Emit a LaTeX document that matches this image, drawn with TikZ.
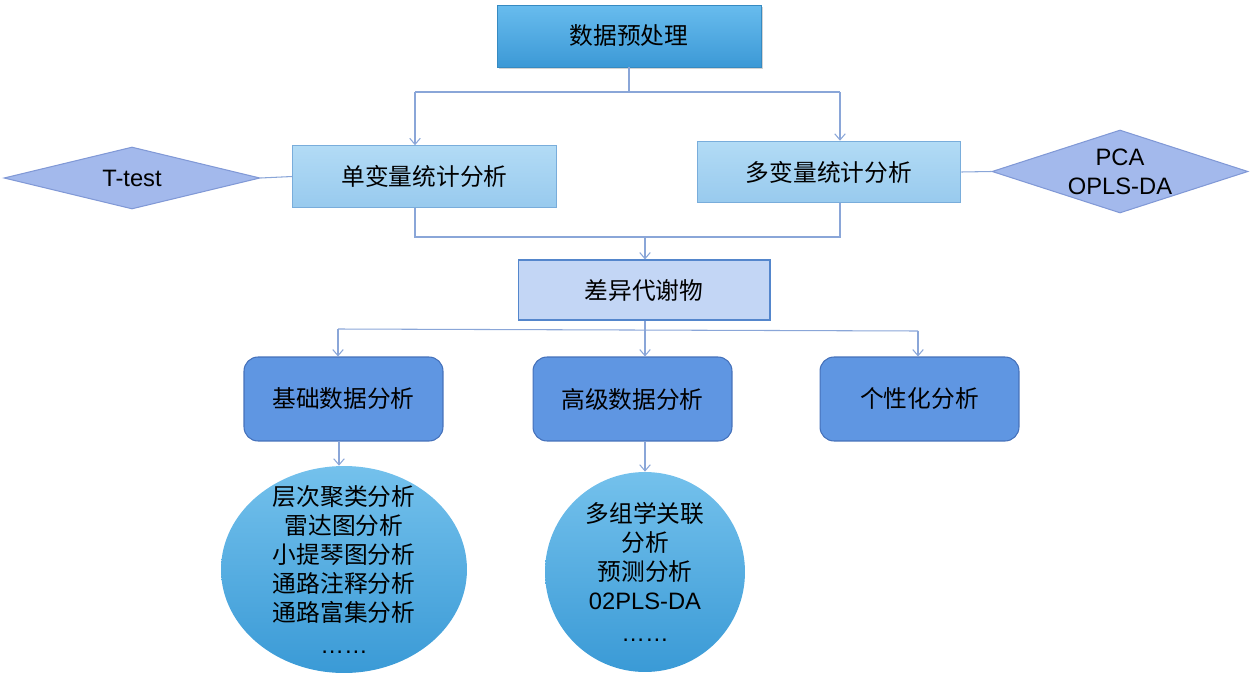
\documentclass[tikz,border=0pt]{standalone}
\usepackage{fontspec}
\setmainfont{Liberation Sans}
\newfontfamily\cjk{Noto Sans CJK SC}
\usetikzlibrary{shapes.geometric,arrows.meta,shadows}
\definecolor{linec}{HTML}{8AA6D8}
\definecolor{topA}{HTML}{68BCEE}
\definecolor{topB}{HTML}{3C99D6}
\definecolor{midA}{HTML}{B2DBF5}
\definecolor{midB}{HTML}{98CAEE}
\definecolor{midD}{HTML}{79ADDB}
\definecolor{diaF}{HTML}{A3B9EC}
\definecolor{diaD}{HTML}{8199D6}
\definecolor{difF}{HTML}{C3D6F5}
\definecolor{difD}{HTML}{5486CC}
\definecolor{rbF}{HTML}{5F96E2}
\definecolor{rbD}{HTML}{4571BA}
\definecolor{elA}{HTML}{74C1EC}
\definecolor{elB}{HTML}{3A9AD6}
\begin{document}
\begin{tikzpicture}[x=0.02cm,y=-0.02cm,
  txt/.style={font=\fontsize{13.5}{16.5}\selectfont, text=black, inner sep=0pt},
  topbox/.style={txt, rectangle, top color=topA, bottom color=topB, draw=topB!90!black, line width=0.4pt,
     minimum width=5.28cm, minimum height=1.24cm, drop shadow={opacity=0.35, shadow xshift=1.2pt, shadow yshift=-1.2pt}},
  midbox/.style={txt, rectangle, top color=midA, bottom color=midB, draw=midD, line width=0.6pt,
     minimum width=5.27cm, minimum height=1.23cm},
  dia/.style={txt, diamond, fill=diaF, draw=diaD, line width=0.6pt, align=center},
  diffbox/.style={txt, rectangle, fill=difF, draw=difD, line width=0.6pt, minimum width=5.04cm, minimum height=1.2cm},
  rbox/.style={txt, rectangle, rounded corners=0.28cm, fill=rbF, draw=rbD, line width=0.6pt, minimum width=3.98cm, minimum height=1.68cm},
  oval/.style={txt, ellipse, top color=elA, bottom color=elB, draw=none, align=center},
  conn/.style={draw=linec, line width=0.6pt},
  arr/.style={conn, -{Straight Barb[length=3.5pt,width=6pt]}}
]
\useasboundingbox (0,0) rectangle (1250,686);

\node[topbox] (pre) at (629,36) {\cjk 数据预处理};
\node[midbox] (uni) at (424.5,176.5) {\cjk 单变量统计分析};
\node[midbox] (multi) at (829,172) {\cjk 多变量统计分析};
\node[dia, aspect=4, minimum width=5.12cm, minimum height=1.24cm] (tt) at (132,178) {T-test};
\node[dia, aspect=3, minimum width=5.12cm, minimum height=1.66cm] (pca) at (1120,171.5) {PCA\\OPLS-DA};
\node[diffbox] (diff) at (644,290) {\cjk 差异代谢物};
\node[rbox] (basic) at (343.5,399) {\cjk 基础数据分析};
\node[rbox] (adv) at (632.5,399) {\cjk 高级数据分析};
\node[rbox] (pers) at (919.5,399) {\cjk 个性化分析};
\node[oval, inner ysep=-8pt, minimum width=4.92cm, minimum height=4.14cm] (basicE) at (344,569.5)
  {\cjk 层次聚类分析\\\cjk 雷达图分析\\\cjk 小提琴图分析\\\cjk 通路注释分析\\\cjk 通路富集分析\\[2pt]……};
\node[oval, inner ysep=-4pt, minimum width=4cm, minimum height=4cm] (advC) at (645,572)
  {\cjk 多组学关联\\\cjk 分析\\\cjk 预测分析\\02PLS-DA\\[2pt]……};

% helper coordinates
\coordinate (j1) at (629,92);
\coordinate (a1) at (415,92);
\coordinate (a2) at (840,92);
\coordinate (b1) at (415,237);
\coordinate (b2) at (840,237);
\coordinate (bm) at (645,237);
\coordinate (c0) at (645,330);
\coordinate (c1) at (338,329);
\coordinate (c3) at (918,331);
\coordinate (d1) at (339,441);

\draw[conn] (pre.south) -- (j1);
\draw[conn] (a1) -- (a2);
\draw[arr] (a1) -- (a1 |- uni.north);
\draw[arr] (a2) -- (a2 |- multi.north);
\draw[conn] (tt.east) -- (uni.west);
\draw[conn] (multi.east) -- (pca.west);
\draw[conn] (b1 |- uni.south) -- (b1) -- (b2) -- (b2 |- multi.south);
\draw[arr] (bm) -- (bm |- diff.north);
\draw[conn] (c0 |- diff.south) -- (c0);
\draw[conn] (c1) -- (c3);
\draw[arr] (c1) -- (c1 |- basic.north);
\draw[arr] (c0) -- (c0 |- adv.north);
\draw[arr] (c3) -- (c3 |- pers.north);
\draw[arr] (d1) -- (d1 |- basicE.north);
\draw[arr] (adv.south -| advC.north) -- (advC.north);
\end{tikzpicture}
\end{document}
